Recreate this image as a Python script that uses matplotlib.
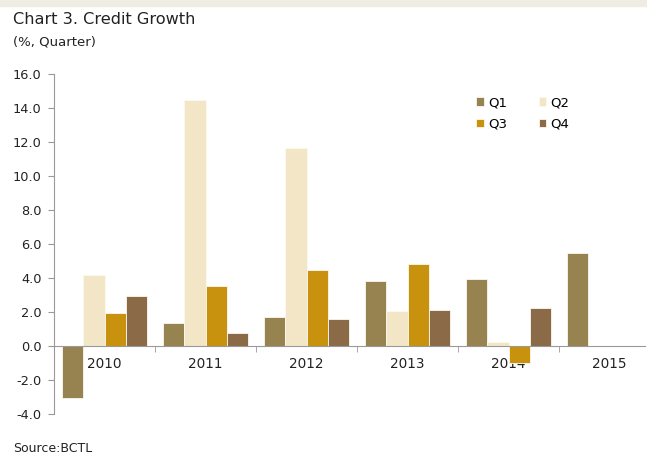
import matplotlib
matplotlib.use("Agg")
import matplotlib.pyplot as plt
from matplotlib.patches import Rectangle
import numpy as np

plt.rcParams['font.family'] = ['DejaVu Sans']

years = ["2010", "2011", "2012", "2013", "2014", "2015"]
q1 = [-3.08, 1.35, 1.71, 3.84, 3.92, 5.45]
q2 = [4.16, 14.47, 11.65, 2.06, 0.24, np.nan]
q3 = [1.92, 3.55, 4.45, 4.82, -1.02, np.nan]
q4 = [2.94, 0.75, 1.59, 2.14, 2.22, np.nan]
series_names = ["Q1", "Q2", "Q3", "Q4"]
colors = ["#97834F", "#F2E6C6", "#C8920E", "#8B6B47"]
yticks = [-4.0, -2.0, 0.0, 2.0, 4.0, 6.0, 8.0, 10.0, 12.0, 14.0, 16.0]

fig = plt.figure(figsize=(6.47, 4.55), dpi=100)
fig.patches.append(Rectangle((0, 1 - 6/455), 1, 6/455, transform=fig.transFigure,
                             color="#EFECE4", zorder=0))
ax = fig.add_axes([54/647, 1 - 414/455, (645 - 54)/647, (414 - 74)/455])

x = np.arange(len(years))
w = 0.21
handles = []
for k, (vals, name, c) in enumerate(zip([q1, q2, q3, q4], series_names, colors)):
    h = ax.bar(x + (k - 1.5) * w, vals, width=w, color=c, edgecolor="#FBF8F0",
               linewidth=0.6, label=name, zorder=2)
    handles.append(h)

ax.set_xlim(-0.5, 5.35)
ax.set_ylim(-4, 16)
ax.set_yticks(yticks)
ax.set_yticklabels([f"{v:.1f}" for v in yticks], fontsize=9.3, color="#222222")

ax.spines['top'].set_visible(False)
ax.spines['right'].set_visible(False)
ax.spines['left'].set_color("#999999")
ax.spines['bottom'].set_color("#999999")
ax.spines['bottom'].set_position(('data', 0))
ax.spines['bottom'].set_zorder(3)

ax.set_xticks(x)
ax.set_xticklabels(years, fontsize=9.8, color="#222222")
ax.set_xticks(np.arange(0.5, 5.0, 1.0), minor=True)
ax.tick_params(axis='x', which='major', length=0, pad=8)
ax.tick_params(axis='x', which='minor', length=4, color="#999999", direction='out')
ax.tick_params(axis='y', length=4, color="#999999", direction='out', pad=5)
for lab in ax.get_xticklabels():
    lab.set_zorder(5)

order = [0, 2, 1, 3]
leg = ax.legend([handles[i] for i in order], [series_names[i] for i in order],
                loc='upper left', bbox_to_anchor=(0.694, 0.97), ncol=2, frameon=False,
                fontsize=9.5, handlelength=0.6, handleheight=0.6, handletextpad=0.3,
                columnspacing=2.4, labelspacing=0.65)

fig.text(13/647, 1 - 20/455, "Chart 3. Credit Growth", fontsize=11.6, color="#222222",
         va='center', ha='left')
fig.text(13/647, 1 - 42/455, "(%, Quarter)", fontsize=9.5, color="#222222",
         va='center', ha='left')
fig.text(13/647, 1 - 448/455, "Source:BCTL", fontsize=9, color="#222222",
         va='center', ha='left')

fig.savefig("out.png", dpi=100)
